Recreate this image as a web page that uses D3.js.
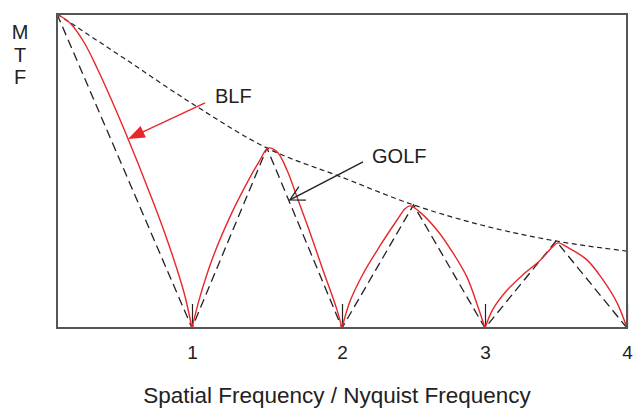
<!DOCTYPE html>
<html>
<head>
<meta charset="utf-8">
<script src="https://cdn.jsdelivr.net/npm/d3@7"></script>
<style>
  body { margin: 0; background: #fff; }
  svg { display: block; font-family: "Liberation Sans", Arial, Helvetica, sans-serif; }
</style>
</head>
<body>
<svg id="chart" width="640" height="409"></svg>
<script>
// x: spatial frequency / Nyquist, y: MTF
const tickValues = [1, 2, 3, 4];
const axisTitle = "Spatial Frequency / Nyquist Frequency";
const yTitle = ["M", "T", "F"];

// upper envelope (short dashes)
const envelope = [
  [0, 1.0], [0.5, 0.858], [1.0, 0.715], [1.5, 0.573], [2.0, 0.48],
  [2.5, 0.392], [3.0, 0.325], [3.5, 0.277], [4.0, 0.245]
];

// GOLF, black long dashes
const golf = [
  [0, 1.0], [1, 0], [1.5, 0.573], [2, 0], [2.5, 0.392], [3, 0], [3.5, 0.277], [4, 0]
];

// BLF, red, one array per arch
const blf1 = [
  [0, 1.0], [0.1, 0.97], [0.2, 0.91], [0.3, 0.825], [0.4, 0.73], [0.5, 0.63],
  [0.6, 0.525], [0.7, 0.415], [0.8, 0.3], [0.9, 0.172], [0.95, 0.098], [1, 0]
];
const blf2 = [
  [1, 0], [1.053, 0.099], [1.14, 0.226], [1.253, 0.354], [1.367, 0.462], [1.453, 0.535],
  [1.507, 0.573], [1.567, 0.561], [1.633, 0.503], [1.70, 0.417], [1.787, 0.303],
  [1.873, 0.185], [1.967, 0.057], [2, 0]
];
const blf3 = [
  [2, 0], [2.056, 0.085], [2.147, 0.172], [2.266, 0.262], [2.385, 0.344], [2.441, 0.38],
  [2.476, 0.389], [2.545, 0.369], [2.664, 0.312], [2.776, 0.239], [2.874, 0.162],
  [2.951, 0.067], [3, 0]
];
const blf4 = [
  [3, 0], [3.056, 0.06], [3.155, 0.12], [3.268, 0.17], [3.387, 0.215], [3.479, 0.26],
  [3.514, 0.271], [3.577, 0.258], [3.718, 0.217], [3.831, 0.153], [3.93, 0.08], [4, 0]
];

// annotations: [label, label pos, arrow start, arrow tip]
const labels = [
  { text: "BLF",  at: [1.153, 0.717], from: [1.087, 0.717], to: [0.526, 0.602], color: "#e8262b", head: "filled" },
  { text: "GOLF", at: [2.21, 0.525],  from: [2.147, 0.529], to: [1.653, 0.408], color: "#222", head: "open" }
];

const red = "#e8262b";
const ink = "#222";

const svg = d3.select("#chart");
const margin = { left: 57, right: 13, top: 14, bottom: 81 };
const width = 640 - margin.left - margin.right;
const height = 409 - margin.top - margin.bottom;

// the original plot isn't evenly spaced along x, so map each integer
const x = d3.scaleLinear()
  .domain([0, 1, 2, 3, 4])
  .range([0, 135, 285, 428, width]);
const y = d3.scaleLinear()
  .domain([0, 1])
  .range([height, 0]);

const chart = svg.append("g")
  .attr("transform", "translate(" + margin.left + "," + margin.top + ")");

// axis: inward ticks + labels below
const xAxis = chart.append("g")
  .attr("transform", "translate(0," + height + ")")
  .call(d3.axisBottom(x).tickValues(tickValues).tickSizeInner(-24).tickSizeOuter(0).tickPadding(18).tickFormat(d3.format("d")));
xAxis.select(".domain").remove();
xAxis.selectAll(".tick line").attr("stroke", ink).attr("stroke-width", 1.2);
xAxis.selectAll(".tick text")
  .attr("fill", ink)
  .attr("font-size", 19)
  .style("font-family", "'Liberation Sans', Arial, sans-serif");

const line = d3.line().x(d => x(d[0])).y(d => y(d[1]));

chart.append("path")
  .datum(envelope)
  .attr("fill", "none")
  .attr("stroke", ink)
  .attr("stroke-width", 1.2)
  .attr("stroke-dasharray", "5,3.5")
  .attr("d", line.curve(d3.curveMonotoneX));

chart.append("path")
  .datum(golf)
  .attr("fill", "none")
  .attr("stroke", ink)
  .attr("stroke-width", 1.3)
  .attr("stroke-dasharray", "9,5")
  .attr("d", d3.line().x(d => x(d[0])).y(d => y(d[1])));

const smooth = d3.line().x(d => x(d[0])).y(d => y(d[1])).curve(d3.curveCatmullRom.alpha(0.5));
chart.selectAll(".blf")
  .data([blf1, blf2, blf3, blf4])
  .join("path")
  .attr("class", "blf")
  .attr("fill", "none")
  .attr("stroke", red)
  .attr("stroke-width", 1.4)
  .attr("d", smooth);

// frame
chart.append("rect")
  .attr("width", width)
  .attr("height", height)
  .attr("fill", "none")
  .attr("stroke", "#555")
  .attr("stroke-width", 2);

// labels + arrows
labels.forEach(l => {
  chart.append("text")
    .attr("x", x(l.at[0]))
    .attr("y", y(l.at[1]))
    .attr("font-size", 20)
    .attr("fill", ink)
    .text(l.text);

  const x0 = x(l.from[0]), y0 = y(l.from[1]);
  const x1 = x(l.to[0]), y1 = y(l.to[1]);
  const ang = Math.atan2(y0 - y1, x0 - x1);
  chart.append("line")
    .attr("x1", x0).attr("y1", y0)
    .attr("x2", x1 + (l.head === "filled" ? 10 * Math.cos(ang) : 0))
    .attr("y2", y1 + (l.head === "filled" ? 10 * Math.sin(ang) : 0))
    .attr("stroke", l.color)
    .attr("stroke-width", 1.4);

  if (l.head === "filled") {
    const len = 18, spread = 0.36;
    const pts = [
      [x1, y1],
      [x1 + len * Math.cos(ang - spread), y1 + len * Math.sin(ang - spread)],
      [x1 + len * Math.cos(ang + spread), y1 + len * Math.sin(ang + spread)]
    ];
    chart.append("path")
      .attr("d", "M" + pts.join("L") + "Z")
      .attr("fill", l.color);
  } else {
    const len = 16, spread = 0.5;
    const pts = [
      [x1 + len * Math.cos(ang - spread), y1 + len * Math.sin(ang - spread)],
      [x1, y1],
      [x1 + len * Math.cos(ang + spread), y1 + len * Math.sin(ang + spread)]
    ];
    chart.append("path")
      .attr("d", "M" + pts.join("L"))
      .attr("fill", "none")
      .attr("stroke", l.color)
      .attr("stroke-width", 1.3);
  }
});

// y title, stacked letters
svg.selectAll(".ytitle")
  .data(yTitle)
  .join("text")
  .attr("class", "ytitle")
  .attr("x", 20)
  .attr("y", (d, i) => 39 + i * 22.5)
  .attr("text-anchor", "middle")
  .attr("font-size", 20)
  .attr("fill", ink)
  .text(d => d);

// x title
svg.append("text")
  .attr("x", 337)
  .attr("y", 403)
  .attr("text-anchor", "middle")
  .attr("font-size", 22.5)
  .attr("fill", ink)
  .text(axisTitle);
</script>
</body>
</html>
